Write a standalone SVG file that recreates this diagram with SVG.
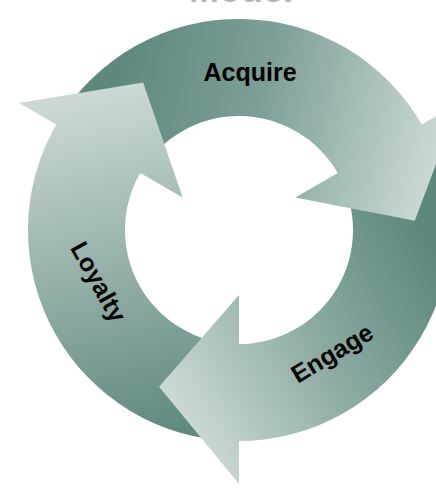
<svg xmlns="http://www.w3.org/2000/svg" width="436" height="489" viewBox="0 0 436 489">
  <defs>
    <linearGradient id="gAcq" gradientUnits="userSpaceOnUse" x1="100" y1="140" x2="420" y2="215">
      <stop offset="0" stop-color="#5e887e"/>
      <stop offset="0.45" stop-color="#7d9f97"/>
      <stop offset="1" stop-color="#cad8d5"/>
    </linearGradient>
    <linearGradient id="gEng" gradientUnits="userSpaceOnUse" x1="425" y1="240" x2="165" y2="385">
      <stop offset="0" stop-color="#5e887e"/>
      <stop offset="0.45" stop-color="#88a8a0"/>
      <stop offset="1" stop-color="#cbd8d5"/>
    </linearGradient>
    <linearGradient id="gLoy" gradientUnits="userSpaceOnUse" x1="205" y1="430" x2="125" y2="90">
      <stop offset="0" stop-color="#5e887e"/>
      <stop offset="0.45" stop-color="#8eaba4"/>
      <stop offset="1" stop-color="#cbd8d5"/>
    </linearGradient>
  </defs>
  <style>
    .lbl { font-family: "Liberation Sans", Arial, sans-serif; font-weight: bold; font-size: 25px; fill: #000; text-anchor: middle; }
    .title { font-family: "Liberation Sans", Arial, sans-serif; font-weight: bold; font-size: 36px; fill: #b4b4b4; text-anchor: middle; }
  </style>
  <rect width="436" height="489" fill="#ffffff"/>
  <text class="title" x="241" y="2">Model</text>

  <g id="connectors">
    <!-- shafts -->
    <path id="shaft-acquire" fill="url(#gAcq)" d="M58.1,121.3 A211,211 0 0 1 422.7,126.1 L338.2,173.9 A114,114 0 0 0 141.3,171.3 Z"/>
    <path id="shaft-engage" fill="url(#gEng)" d="M423.5,127.7 A211,211 0 0 1 237.2,441 L238,344 A114,114 0 0 0 338.7,174.7 Z"/>
    <path id="shaft-loyalty" fill="url(#gLoy)" d="M235.3,441 A211,211 0 0 1 57.2,122.9 L140.8,172.1 A114,114 0 0 0 237,344 Z"/>
    <!-- heads -->
    <polygon id="head-acquire" fill="url(#gAcq)" points="459,103 414.8,220.8 295.3,197.5"/>
    <polygon id="head-engage" fill="url(#gEng)" points="239,484 159.1,386.8 239,295"/>
    <polygon id="head-loyalty" fill="url(#gLoy)" points="19,103 143.1,82.4 182.7,197.5"/>
  </g>

  <g id="node-acquire">
    <text class="lbl" x="250" y="81">Acquire</text>
  </g>
  <g id="node-engage">
    <text class="lbl" transform="translate(336.5,360.5) rotate(-31)">Engage</text>
  </g>
  <g id="node-loyalty">
    <text class="lbl" transform="translate(91,286) rotate(61)">Loyalty</text>
  </g>
</svg>
